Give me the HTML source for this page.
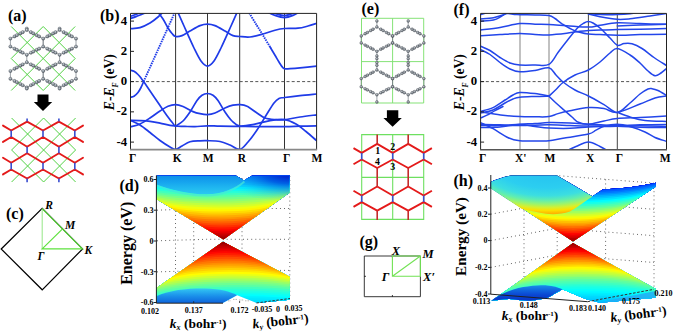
<!DOCTYPE html>
<html><head><meta charset="utf-8"><style>
html,body{margin:0;padding:0;background:#fff;}
body{width:675px;height:331px;overflow:hidden;position:relative;}
svg{position:absolute;left:0;top:0;}
text{font-family:"Liberation Serif",serif;font-weight:bold;}
</style></head><body>
<svg width="675" height="331" viewBox="0 0 675 331">

<defs>
<clipPath id="clipb"><rect x="130.5" y="13.4" width="186.10000000000002" height="136.29999999999998"/></clipPath>
<clipPath id="clipf"><rect x="480.6" y="13.4" width="185.89999999999998" height="136.29999999999998"/></clipPath>
</defs>
<line x1="175.6" y1="13.4" x2="175.6" y2="149.7" stroke="#333" stroke-width="1"/>
<line x1="207.5" y1="13.4" x2="207.5" y2="149.7" stroke="#333" stroke-width="1"/>
<line x1="239.7" y1="13.4" x2="239.7" y2="149.7" stroke="#333" stroke-width="1"/>
<line x1="284.5" y1="13.4" x2="284.5" y2="149.7" stroke="#333" stroke-width="1"/>
<line x1="130.5" y1="81.6" x2="316.6" y2="81.6" stroke="#555" stroke-width="1" stroke-dasharray="3 2.2"/>
<g clip-path="url(#clipb)" fill="none" stroke="#1f3be8" stroke-width="1.7" stroke-linejoin="round" stroke-linecap="round">
<path d="M130.5 18.4C131.42 18.1 134.08 17.3 136 16.6C137.92 15.9 140 14.97 142 14.2C144 13.43 147 12.37 148 12"/>
<path d="M130.5 16.3C131.25 16.05 133.42 15.43 135 14.8C136.58 14.17 139.17 12.88 140 12.5"/>
<path d="M130.5 28.7C132.08 28.52 136.75 28.55 140 27.6C143.25 26.65 147 24.77 150 23C153 21.23 155.67 19 158 17C160.33 15 163 12 164 11"/>
<path d="M157 11C158 12.33 161.17 16.17 163 19C164.83 21.83 166.5 25.58 168 28C169.5 30.42 170.73 32.08 172 33.5C173.27 34.92 173.93 36.15 175.6 36.5C177.27 36.85 179.6 36.52 182 35.6C184.4 34.68 187 32.67 190 31C193 29.33 197.08 26.75 200 25.6C202.92 24.45 205 24.1 207.5 24.1C210 24.1 212.08 24.45 215 25.6C217.92 26.75 222 29.33 225 31C228 32.67 230.55 34.68 233 35.6C235.45 36.52 236.87 36.27 239.7 36.5C242.53 36.73 246.28 37.37 250 37C253.72 36.63 257.83 35.43 262 34.3C266.17 33.17 271.25 31.17 275 30.2C278.75 29.23 280.67 28.83 284.5 28.5C288.33 28.17 294.08 28.62 298 28.2C301.92 27.78 304.9 26.82 308 26C311.1 25.18 315.17 23.75 316.6 23.3"/>
<path d="M176 8C177.33 11 181 19.33 184 26C187 32.67 191.17 42.17 194 48C196.83 53.83 198.75 57.98 201 61C203.25 64.02 205.33 66.1 207.5 66.1C209.67 66.1 211.75 64.02 214 61C216.25 57.98 218.17 53.83 221 48C223.83 42.17 228 32.67 231 26C234 19.33 237.67 11 239 8"/>
<path d="M265 11C266.67 11.73 271.75 14.3 275 15.4C278.25 16.5 281.5 17.6 284.5 17.6C287.5 17.6 290.25 16.5 293 15.4C295.75 14.3 299.67 11.73 301 11"/>
<path d="M270 11C271.33 11.57 275.58 13.63 278 14.4C280.42 15.17 282.5 15.6 284.5 15.6C286.5 15.6 287.92 15.17 290 14.4C292.08 13.63 295.83 11.57 297 11"/>
<path d="M270.5 47.7C271.25 48.95 273.58 52.82 275 55.2C276.42 57.58 277.83 60.1 279 62C280.17 63.9 281.08 65.47 282 66.6C282.92 67.73 283.17 68.47 284.5 68.8C285.83 69.13 287.42 68.77 290 68.6C292.58 68.43 295.57 68.22 300 67.8C304.43 67.38 313.83 66.38 316.6 66.1"/>
<path d="M130.5 70.2C131.08 70.38 132.75 70.58 134 71.3C135.25 72.02 136.83 73.38 138 74.5C139.17 75.62 140.07 76.82 141 78C141.93 79.18 142.6 80.18 143.6 81.6C144.6 83.02 144.27 82.52 147 86.5C149.73 90.48 156.5 100.42 160 105.5C163.5 110.58 165.92 114.12 168 117C170.08 119.88 171.23 121.3 172.5 122.8C173.77 124.3 173.52 125.4 175.6 126C177.68 126.6 181.77 126.3 185 126.4C188.23 126.5 191.25 126.7 195 126.6C198.75 126.5 203.33 125.87 207.5 125.8C211.67 125.73 214.63 126.1 220 126.2C225.37 126.3 233.03 126.33 239.7 126.4C246.37 126.47 252.53 126.57 260 126.6C267.47 126.63 277.83 126.67 284.5 126.6C291.17 126.53 294.65 126.33 300 126.2C305.35 126.07 313.83 125.87 316.6 125.8"/>
<path d="M130.5 97.2C131.08 97.03 132.75 96.98 134 96.2C135.25 95.42 136.83 93.95 138 92.5C139.17 91.05 140.07 89.32 141 87.5C141.93 85.68 143.17 82.58 143.6 81.6"/>
<path d="M130.5 120.4C132.08 120.43 136.75 120.45 140 120.6C143.25 120.75 146.67 120.87 150 121.3C153.33 121.73 156.67 122.53 160 123.2C163.33 123.87 167.4 124.83 170 125.3C172.6 125.77 174.67 125.88 175.6 126"/>
<path d="M130.5 120.4C132.08 121.17 136.75 122.98 140 125C143.25 127.02 146.67 129.92 150 132.5C153.33 135.08 156.67 138.08 160 140.5C163.33 142.92 167.4 145.52 170 147C172.6 148.48 173.6 149.57 175.6 149.4C177.6 149.23 179.6 147.27 182 146C184.4 144.73 187 142.67 190 141.8C193 140.93 197.08 140.98 200 140.8C202.92 140.62 204.17 140.58 207.5 140.7C210.83 140.82 216.25 140.78 220 141.5C223.75 142.22 226.72 143.68 230 145C233.28 146.32 236.7 149.9 239.7 149.4C242.7 148.9 245.12 145.23 248 142C250.88 138.77 254 134.42 257 130C260 125.58 263.17 120 266 115.5C268.83 111 271.83 105.83 274 103C276.17 100.17 277.25 99.42 279 98.5C280.75 97.58 281 97.98 284.5 97.5C288 97.02 294.65 96.18 300 95.6C305.35 95.02 313.83 94.27 316.6 94"/>
<path d="M130.5 126.9C132.08 126.42 136.75 125.48 140 124C143.25 122.52 146.67 120.17 150 118C153.33 115.83 157 112.97 160 111C163 109.03 165.4 107.27 168 106.2C170.6 105.13 173.1 104.55 175.6 104.6C178.1 104.65 180.1 105.33 183 106.5C185.9 107.67 190.17 110.4 193 111.6C195.83 112.8 197.58 113.2 200 113.7C202.42 114.2 205 114.72 207.5 114.6C210 114.48 212.08 114.1 215 113C217.92 111.9 222 109.3 225 108C228 106.7 230.55 105.77 233 105.2C235.45 104.63 237.37 104.43 239.7 104.6C242.03 104.77 244.12 104.8 247 106.2C249.88 107.6 254 111.03 257 113C260 114.97 262 116.9 265 118C268 119.1 271.75 119.33 275 119.6C278.25 119.87 280.33 120.03 284.5 119.6C288.67 119.17 294.65 117.8 300 117C305.35 116.2 313.83 115.17 316.6 114.8"/>
<path d="M175.6 126C176.83 125.17 180.6 123.33 183 121C185.4 118.67 187.67 115.42 190 112C192.33 108.58 195 103.3 197 100.5C199 97.7 200.25 96.37 202 95.2C203.75 94.03 205.67 93.5 207.5 93.5C209.33 93.5 211.25 94.03 213 95.2C214.75 96.37 216 97.7 218 100.5C220 103.3 222.67 108.58 225 112C227.33 115.42 229.55 118.67 232 121C234.45 123.33 235.87 125.47 239.7 126C243.53 126.53 249.95 125.1 255 124.2C260.05 123.3 265.08 121.37 270 120.6C274.92 119.83 280.17 119.03 284.5 119.6C288.83 120.17 292.42 122.02 296 124C299.58 125.98 302.57 128.72 306 131.5C309.43 134.28 314.83 139.17 316.6 140.7"/>
<path d="M143.6 81.6L175 12" stroke-dasharray="1.5 0.9" stroke-width="1.9" stroke-linecap="butt"/>
<path d="M248 11C249.45 13.37 254.03 20.87 256.7 25.2C259.37 29.53 261.62 33.12 264 37C266.38 40.88 269.83 46.58 271 48.5" stroke-dasharray="1.5 0.9" stroke-width="1.9" stroke-linecap="butt"/>
</g>
<path d="M130.5 149.7V13.4H316.6V149.7" fill="none" stroke="#222" stroke-width="1"/>
<line x1="130.0" y1="149.7" x2="317.1" y2="149.7" stroke="#888" stroke-width="1.8"/>
<line x1="130.5" y1="21.099999999999994" x2="134.0" y2="21.099999999999994" stroke="#222" stroke-width="1"/>
<line x1="130.5" y1="51.349999999999994" x2="134.0" y2="51.349999999999994" stroke="#222" stroke-width="1"/>
<line x1="130.5" y1="81.6" x2="134.0" y2="81.6" stroke="#222" stroke-width="1"/>
<line x1="130.5" y1="111.85" x2="134.0" y2="111.85" stroke="#222" stroke-width="1"/>
<line x1="130.5" y1="142.1" x2="134.0" y2="142.1" stroke="#222" stroke-width="1"/>
<line x1="520.0" y1="13.4" x2="520.0" y2="149.7" stroke="#a0a0a0" stroke-width="1.3"/>
<line x1="549.0" y1="13.4" x2="549.0" y2="149.7" stroke="#a0a0a0" stroke-width="1.3"/>
<line x1="588.4" y1="13.4" x2="588.4" y2="149.7" stroke="#444" stroke-width="1"/>
<line x1="617.3" y1="13.4" x2="617.3" y2="149.7" stroke="#444" stroke-width="1"/>
<line x1="480.6" y1="81.6" x2="666.5" y2="81.6" stroke="#555" stroke-width="1" stroke-dasharray="3 2.2"/>
<g clip-path="url(#clipf)" fill="none" stroke="#2346ea" stroke-width="1.5" stroke-linejoin="round" stroke-linecap="round">
<path d="M480.6 14.5C481.5 14.25 484.1 13.58 486 13C487.9 12.42 491 11.33 492 11"/>
<path d="M480.6 18.9C482.73 18.7 489.83 18.32 493.4 17.7C496.97 17.08 499.63 15.88 502 15.2C504.37 14.52 505.1 13.7 507.6 13.6C510.1 13.5 512.43 14.37 517 14.6C521.57 14.83 529.68 14.83 535 15C540.32 15.17 545.57 15.02 548.9 15.6C552.23 16.18 552.82 17.13 555 18.5C557.18 19.87 558.72 21.77 562 23.8C565.28 25.83 570.3 29 574.7 30.7C579.1 32.4 584.18 33.35 588.4 34C592.62 34.65 595.18 34.4 600 34.6C604.82 34.8 610.63 35.2 617.3 35.2C623.97 35.2 631.8 34.75 640 34.6C648.2 34.45 662.08 34.35 666.5 34.3"/>
<path d="M480.6 21.3C482.73 21.08 490 20.8 493.4 20C496.8 19.2 498.63 17.83 501 16.5C503.37 15.17 506.5 12.75 507.6 12"/>
<path d="M480.6 30.1C483.83 29.65 493.47 28.5 500 27.4C506.53 26.3 513.97 24.03 519.8 23.5C525.63 22.97 530.15 24.03 535 24.2C539.85 24.37 543.62 24.25 548.9 24.5C554.18 24.75 560.12 25.27 566.7 25.7C573.28 26.13 582.85 27.17 588.4 27.1C593.95 27.03 595.18 26.03 600 25.3C604.82 24.57 610.63 22.98 617.3 22.7C623.97 22.42 631.8 23.33 640 23.6C648.2 23.87 662.08 24.18 666.5 24.3"/>
<path d="M480.6 35.8C483.83 35.58 493.47 34.88 500 34.5C506.53 34.12 513.97 33.52 519.8 33.5C525.63 33.48 530.15 34.17 535 34.4C539.85 34.63 543.62 35.08 548.9 34.9C554.18 34.72 561.52 33.9 566.7 33.3C571.88 32.7 574.45 31.85 580 31.3C585.55 30.75 593.78 30.28 600 30C606.22 29.72 610.63 29.72 617.3 29.6C623.97 29.48 631.8 29.48 640 29.3C648.2 29.12 662.08 28.63 666.5 28.5"/>
<path d="M588.4 14C590.33 14.45 595.18 15.82 600 16.7C604.82 17.58 612.3 18.95 617.3 19.3C622.3 19.65 624.55 19.35 630 18.8C635.45 18.25 643.92 16.88 650 16C656.08 15.12 663.75 13.92 666.5 13.5"/>
<path d="M588.4 13.6C590.33 13.73 595.18 14.23 600 14.4C604.82 14.57 612.3 14.7 617.3 14.6C622.3 14.5 626.22 14.23 630 13.8C633.78 13.37 638.33 12.3 640 12"/>
<path d="M617.3 25.9C621.08 25.75 631.8 25.27 640 25C648.2 24.73 662.08 24.42 666.5 24.3"/>
<path d="M480.6 46.2C482.17 46.92 486.77 48.62 490 50.5C493.23 52.38 496.67 55.42 500 57.5C503.33 59.58 506.7 61.75 510 63C513.3 64.25 515.63 64.67 519.8 65C523.97 65.33 530.15 65.1 535 65C539.85 64.9 545.07 66.48 548.9 64.4C552.73 62.32 554.82 56.65 558 52.5C561.18 48.35 564.67 43.67 568 39.5C571.33 35.33 575.33 30.25 578 27.5C580.67 24.75 582.27 24 584 23C585.73 22 586.9 21.5 588.4 21.5C589.9 21.5 591.07 21.92 593 23C594.93 24.08 597.17 25.5 600 28C602.83 30.5 607.12 35.12 610 38C612.88 40.88 614.97 44.37 617.3 45.3C619.63 46.23 621.55 43.85 624 43.6C626.45 43.35 629 42.98 632 43.8C635 44.62 638.33 46.22 642 48.5C645.67 50.78 649.92 54.67 654 57.5C658.08 60.33 664.42 64.17 666.5 65.5"/>
<path d="M480.6 49.6C482.17 50.42 486.77 52.35 490 54.5C493.23 56.65 496.67 60.08 500 62.5C503.33 64.92 506.7 67.45 510 69C513.3 70.55 515.63 71.55 519.8 71.8C523.97 72.05 530.15 71.17 535 70.5C539.85 69.83 545.4 67.05 548.9 67.8C552.4 68.55 553.65 72.63 556 75C558.35 77.37 559.83 79.5 563 82C566.17 84.5 570.77 87.67 575 90C579.23 92.33 583.57 93.57 588.4 96C593.23 98.43 599.18 101.87 604 104.6C608.82 107.33 612.97 112.67 617.3 112.4C621.63 112.13 626.22 106.07 630 103C633.78 99.93 637 96.33 640 94C643 91.67 646 89.88 648 89C650 88.12 650.33 88.45 652 88.7C653.67 88.95 655.58 89.38 658 90.5C660.42 91.62 665.08 94.58 666.5 95.4"/>
<path d="M548.9 96.2C550.08 95.08 553.65 91.78 556 89.5C558.35 87.22 559.83 84.92 563 82.5C566.17 80.08 570.77 77.08 575 75C579.23 72.92 584.23 72.17 588.4 70C592.57 67.83 596.4 64.83 600 62C603.6 59.17 607.12 55.25 610 53C612.88 50.75 613.97 48.17 617.3 48.5C620.63 48.83 626.22 52.58 630 55C633.78 57.42 637 60.33 640 63C643 65.67 645.5 68.88 648 71C650.5 73.12 652.83 75.37 655 75.7C657.17 76.03 659.08 74.2 661 73C662.92 71.8 665.58 69.25 666.5 68.5"/>
<path d="M480.6 111.3C482.67 110.68 488.93 109.48 493 107.6C497.07 105.72 501.67 102.1 505 100C508.33 97.9 510.53 96.25 513 95C515.47 93.75 516.13 92.73 519.8 92.5C523.47 92.27 530.15 93.02 535 93.6C539.85 94.18 546.58 95.6 548.9 96"/>
<path d="M480.6 113C482.67 112.5 488.93 111.67 493 110C497.07 108.33 501.67 104.83 505 103C508.33 101.17 510.53 99.97 513 99C515.47 98.03 516.13 97.62 519.8 97.2C523.47 96.78 530.15 96.67 535 96.5C539.85 96.33 546.58 96.25 548.9 96.2"/>
<path d="M480.6 118C481.67 117.53 484.6 116.43 487 115.2C489.4 113.97 492.33 112.05 495 110.6C497.67 109.15 501.67 107.18 503 106.5"/>
<path d="M480.6 112C483.93 112.5 494.07 114.23 500.6 115C507.13 115.77 514.07 116.3 519.8 116.6C525.53 116.9 530.15 116.8 535 116.8C539.85 116.8 545.07 117.13 548.9 116.6C552.73 116.07 554.48 114.57 558 113.6C561.52 112.63 564.93 111.8 570 110.8C575.07 109.8 582.73 107.97 588.4 107.6C594.07 107.23 599.18 107.8 604 108.6C608.82 109.4 611.3 113.17 617.3 112.4C623.3 111.63 633.72 106.4 640 104C646.28 101.6 650.58 99.33 655 98C659.42 96.67 664.58 96.33 666.5 96"/>
<path d="M480.6 125.5C483.83 125.52 493.47 125.82 500 125.6C506.53 125.38 513.97 124.53 519.8 124.2C525.63 123.87 530.15 123.87 535 123.6C539.85 123.33 543.07 122.7 548.9 122.6C554.73 122.5 563.42 122.72 570 123C576.58 123.28 582.73 123.97 588.4 124.3C594.07 124.63 599.18 124.8 604 125C608.82 125.2 611.3 125.53 617.3 125.5C623.3 125.47 631.8 124.97 640 124.8C648.2 124.63 662.08 124.55 666.5 124.5"/>
<path d="M480.6 127.5C483.83 127.42 493.47 127.48 500 127C506.53 126.52 513.97 124.68 519.8 124.6C525.63 124.52 530.15 125.93 535 126.5C539.85 127.07 543.07 127.7 548.9 128C554.73 128.3 563.42 128.47 570 128.3C576.58 128.13 582.73 127.3 588.4 127C594.07 126.7 599.18 126.62 604 126.5C608.82 126.38 611.3 126.42 617.3 126.3C623.3 126.18 631.8 125.77 640 125.8C648.2 125.83 662.08 126.38 666.5 126.5"/>
<path d="M480.6 124.5C483.83 124.55 493.47 124.63 500 124.8C506.53 124.97 513.97 125.43 519.8 125.5C525.63 125.57 530.15 125.32 535 125.2C539.85 125.08 543.07 124.75 548.9 124.8C554.73 124.85 563.42 125.3 570 125.5C576.58 125.7 580.52 125.88 588.4 126C596.28 126.12 608.7 126 617.3 126.2C625.9 126.4 631.8 126.98 640 127.2C648.2 127.42 662.08 127.45 666.5 127.5"/>
<path d="M480.6 122.6C482.68 123.62 488.5 126.18 493.1 128.7C497.7 131.22 503.75 135.68 508.2 137.7C512.65 139.72 515.33 140.27 519.8 140.8C524.27 141.33 530.15 140.9 535 140.9C539.85 140.9 543.97 141.28 548.9 140.8C553.83 140.32 558.02 139.12 564.6 138C571.18 136.88 583.17 135.4 588.4 134.1C593.63 132.8 593.4 131.5 596 130.2C598.6 128.9 600.45 127.28 604 126.3C607.55 125.32 612.97 124.27 617.3 124.3C621.63 124.33 625.38 125.22 630 126.5C634.62 127.78 640.83 130.17 645 132C649.17 133.83 651.42 135.95 655 137.5C658.58 139.05 664.58 140.67 666.5 141.3"/>
<path d="M548.9 96.2C550.08 97.33 553.38 100.62 556 103C558.62 105.38 561.93 108.17 564.6 110.5C567.27 112.83 569.7 115.03 572 117C574.3 118.97 575.67 121.08 578.4 122.3C581.13 123.52 584.13 124.52 588.4 124.3C592.67 124.08 599.18 121.97 604 121C608.82 120.03 611.3 119.08 617.3 118.5C623.3 117.92 631.8 117.92 640 117.5C648.2 117.08 662.08 116.25 666.5 116"/>
<path d="M566 151C567.67 150.25 572.27 148 576 146.5C579.73 145 584.4 142 588.4 142C592.4 142 596.73 145 600 146.5C603.27 148 606.67 150.25 608 151"/>
<path d="M617.3 112.4C619.42 113.17 625.38 115.65 630 117C634.62 118.35 638.92 119.75 645 120.5C651.08 121.25 662.92 121.33 666.5 121.5"/>
</g>
<path d="M480.6 149.7V13.4H666.5V149.7" fill="none" stroke="#222" stroke-width="1"/>
<line x1="480.1" y1="149.7" x2="667.0" y2="149.7" stroke="#555" stroke-width="1.6"/>
<line x1="480.6" y1="21.099999999999994" x2="484.1" y2="21.099999999999994" stroke="#222" stroke-width="1"/>
<line x1="480.6" y1="51.349999999999994" x2="484.1" y2="51.349999999999994" stroke="#222" stroke-width="1"/>
<line x1="480.6" y1="81.6" x2="484.1" y2="81.6" stroke="#222" stroke-width="1"/>
<line x1="480.6" y1="111.85" x2="484.1" y2="111.85" stroke="#222" stroke-width="1"/>
<line x1="480.6" y1="142.1" x2="484.1" y2="142.1" stroke="#222" stroke-width="1"/>
<text x="127.1" y="24.599999999999994" font-size="12.8" text-anchor="end">4</text>
<text x="127.1" y="54.849999999999994" font-size="12.8" text-anchor="end">2</text>
<text x="127.1" y="85.1" font-size="12.8" text-anchor="end">0</text>
<text x="127.1" y="115.35" font-size="12.8" text-anchor="end">-2</text>
<text x="127.1" y="145.6" font-size="12.8" text-anchor="end">-4</text>
<text x="477.1" y="24.599999999999994" font-size="12.8" text-anchor="end">4</text>
<text x="477.1" y="54.849999999999994" font-size="12.8" text-anchor="end">2</text>
<text x="477.1" y="85.1" font-size="12.8" text-anchor="end">0</text>
<text x="477.1" y="115.35" font-size="12.8" text-anchor="end">-2</text>
<text x="477.1" y="145.6" font-size="12.8" text-anchor="end">-4</text>
<text x="132.6" y="162.4" font-size="11.5" text-anchor="middle">Γ</text>
<text x="177.3" y="162.4" font-size="11.5" text-anchor="middle">K</text>
<text x="208.2" y="162.4" font-size="11.5" text-anchor="middle">M</text>
<text x="241.8" y="162.4" font-size="11.5" text-anchor="middle">R</text>
<text x="286.7" y="162.4" font-size="11.5" text-anchor="middle">Γ</text>
<text x="316.9" y="162.4" font-size="11.5" text-anchor="middle">M</text>
<text x="482.7" y="162.4" font-size="11.5" text-anchor="middle">Γ</text>
<text x="520.8" y="162.4" font-size="11.5" text-anchor="middle">X'</text>
<text x="550" y="162.4" font-size="11.5" text-anchor="middle">M</text>
<text x="590.2" y="162.4" font-size="11.5" text-anchor="middle">X</text>
<text x="619.4" y="162.4" font-size="11.5" text-anchor="middle">Γ</text>
<text x="665.2" y="162.4" font-size="11.5" text-anchor="middle">M</text>
<text transform="translate(113.5,82.2) rotate(-90)" font-size="13.6" text-anchor="middle"><tspan font-style="italic">E</tspan>-<tspan font-style="italic">E</tspan><tspan font-size="7.5" dy="4" font-style="italic">F</tspan><tspan dy="-4"> (eV)</tspan></text>
<text transform="translate(463.5,82.2) rotate(-90)" font-size="13.6" text-anchor="middle"><tspan font-style="italic">E</tspan>-<tspan font-style="italic">E</tspan><tspan font-size="7.5" dy="4" font-style="italic">F</tspan><tspan dy="-4"> (eV)</tspan></text>
<text x="8" y="21" font-size="16">(a)</text>
<text x="100" y="20.6" font-size="16">(b)</text>
<text x="6" y="218.5" font-size="16">(c)</text>
<text x="119.5" y="191" font-size="16">(d)</text>
<text x="361.5" y="13.5" font-size="16">(e)</text>
<text x="453.5" y="15" font-size="16">(f)</text>
<text x="359.5" y="246.5" font-size="16">(g)</text>
<text x="453.5" y="185.5" font-size="16">(h)</text>
<defs><radialGradient id="atomg" cx="0.4" cy="0.35" r="0.7"><stop offset="0" stop-color="#c4c9ce"/><stop offset="0.6" stop-color="#848b92"/><stop offset="1" stop-color="#5c6269"/></radialGradient><radialGradient id="atomga" cx="0.4" cy="0.35" r="0.7"><stop offset="0" stop-color="#d0d6dc"/><stop offset="0.5" stop-color="#909aa3"/><stop offset="1" stop-color="#4e565e"/></radialGradient></defs>
<path d="M11.2 58.5L43.2 90.5M11.2 26.5L75.2 90.5M43.2 26.5L75.2 58.5M11.2 58.5L43.2 26.5M11.2 90.5L75.2 26.5M43.2 90.5L75.2 58.5" stroke="#52d244" stroke-width="1" fill="none"/>
<path d="M26.8 30L10.4 38.6M26.8 30L43.2 38.6M10.4 38.6L10.4 46.6M43.2 38.6L43.2 46.6M10.4 46.6L26.8 54.8M43.2 46.6L26.8 54.8M26.8 62.2L10.4 71M26.8 62.2L43.2 71M10.4 71L10.4 78.8M43.2 71L43.2 78.8M10.4 78.8L26.8 87.4M43.2 78.8L26.8 87.4M26.8 28.6L26.8 30M26.8 54.8L26.8 62.2M26.8 87.4L26.8 88.6M59.6 30L43.2 38.6M59.6 30L76 38.6M43.2 38.6L43.2 46.6M76 38.6L76 46.6M43.2 46.6L59.6 54.8M76 46.6L59.6 54.8M59.6 62.2L43.2 71M59.6 62.2L76 71M43.2 71L43.2 78.8M76 71L76 78.8M43.2 78.8L59.6 87.4M76 78.8L59.6 87.4M59.6 28.6L59.6 30M59.6 54.8L59.6 62.2M59.6 87.4L59.6 88.6" stroke="#7c848b" stroke-width="0.75" fill="none"/>
<g fill="url(#atomga)" stroke="#3a4047" stroke-width="0.35">
<circle cx="10.4" cy="38.6" r="1.6"/>
<circle cx="10.4" cy="46.6" r="1.6"/>
<circle cx="10.4" cy="71" r="1.6"/>
<circle cx="10.4" cy="78.8" r="1.6"/>
<circle cx="14.5" cy="36.45" r="1.6"/>
<circle cx="14.5" cy="48.65" r="1.6"/>
<circle cx="14.5" cy="68.8" r="1.6"/>
<circle cx="14.5" cy="80.95" r="1.6"/>
<circle cx="16.88" cy="35.2" r="1.6"/>
<circle cx="16.88" cy="49.84" r="1.6"/>
<circle cx="16.88" cy="67.52" r="1.6"/>
<circle cx="16.88" cy="82.2" r="1.6"/>
<circle cx="20.32" cy="33.4" r="1.6"/>
<circle cx="20.32" cy="51.56" r="1.6"/>
<circle cx="20.32" cy="65.68" r="1.6"/>
<circle cx="20.32" cy="84" r="1.6"/>
<circle cx="22.7" cy="32.15" r="1.6"/>
<circle cx="22.7" cy="52.75" r="1.6"/>
<circle cx="22.7" cy="64.4" r="1.6"/>
<circle cx="22.7" cy="85.25" r="1.6"/>
<circle cx="26.8" cy="28.6" r="1.6"/>
<circle cx="26.8" cy="30" r="1.6"/>
<circle cx="26.8" cy="54.8" r="1.6"/>
<circle cx="26.8" cy="62.2" r="1.6"/>
<circle cx="26.8" cy="87.4" r="1.6"/>
<circle cx="26.8" cy="88.6" r="1.6"/>
<circle cx="30.9" cy="32.15" r="1.6"/>
<circle cx="30.9" cy="52.75" r="1.6"/>
<circle cx="30.9" cy="64.4" r="1.6"/>
<circle cx="30.9" cy="85.25" r="1.6"/>
<circle cx="33.28" cy="33.4" r="1.6"/>
<circle cx="33.28" cy="51.56" r="1.6"/>
<circle cx="33.28" cy="65.68" r="1.6"/>
<circle cx="33.28" cy="84" r="1.6"/>
<circle cx="36.72" cy="35.2" r="1.6"/>
<circle cx="36.72" cy="49.84" r="1.6"/>
<circle cx="36.72" cy="67.52" r="1.6"/>
<circle cx="36.72" cy="82.2" r="1.6"/>
<circle cx="39.1" cy="36.45" r="1.6"/>
<circle cx="39.1" cy="48.65" r="1.6"/>
<circle cx="39.1" cy="68.8" r="1.6"/>
<circle cx="39.1" cy="80.95" r="1.6"/>
<circle cx="43.2" cy="38.6" r="1.6"/>
<circle cx="43.2" cy="46.6" r="1.6"/>
<circle cx="43.2" cy="71" r="1.6"/>
<circle cx="43.2" cy="78.8" r="1.6"/>
<circle cx="47.3" cy="36.45" r="1.6"/>
<circle cx="47.3" cy="48.65" r="1.6"/>
<circle cx="47.3" cy="68.8" r="1.6"/>
<circle cx="47.3" cy="80.95" r="1.6"/>
<circle cx="49.68" cy="35.2" r="1.6"/>
<circle cx="49.68" cy="49.84" r="1.6"/>
<circle cx="49.68" cy="67.52" r="1.6"/>
<circle cx="49.68" cy="82.2" r="1.6"/>
<circle cx="53.12" cy="33.4" r="1.6"/>
<circle cx="53.12" cy="51.56" r="1.6"/>
<circle cx="53.12" cy="65.68" r="1.6"/>
<circle cx="53.12" cy="84" r="1.6"/>
<circle cx="55.5" cy="32.15" r="1.6"/>
<circle cx="55.5" cy="52.75" r="1.6"/>
<circle cx="55.5" cy="64.4" r="1.6"/>
<circle cx="55.5" cy="85.25" r="1.6"/>
<circle cx="59.6" cy="28.6" r="1.6"/>
<circle cx="59.6" cy="30" r="1.6"/>
<circle cx="59.6" cy="54.8" r="1.6"/>
<circle cx="59.6" cy="62.2" r="1.6"/>
<circle cx="59.6" cy="87.4" r="1.6"/>
<circle cx="59.6" cy="88.6" r="1.6"/>
<circle cx="63.7" cy="32.15" r="1.6"/>
<circle cx="63.7" cy="52.75" r="1.6"/>
<circle cx="63.7" cy="64.4" r="1.6"/>
<circle cx="63.7" cy="85.25" r="1.6"/>
<circle cx="66.08" cy="33.4" r="1.6"/>
<circle cx="66.08" cy="51.56" r="1.6"/>
<circle cx="66.08" cy="65.68" r="1.6"/>
<circle cx="66.08" cy="84" r="1.6"/>
<circle cx="69.52" cy="35.2" r="1.6"/>
<circle cx="69.52" cy="49.84" r="1.6"/>
<circle cx="69.52" cy="67.52" r="1.6"/>
<circle cx="69.52" cy="82.2" r="1.6"/>
<circle cx="71.9" cy="36.45" r="1.6"/>
<circle cx="71.9" cy="48.65" r="1.6"/>
<circle cx="71.9" cy="68.8" r="1.6"/>
<circle cx="71.9" cy="80.95" r="1.6"/>
<circle cx="76" cy="38.6" r="1.6"/>
<circle cx="76" cy="46.6" r="1.6"/>
<circle cx="76" cy="71" r="1.6"/>
<circle cx="76" cy="78.8" r="1.6"/>
</g>
<path d="M37.5 94.5H48.5V102H52.2L43 111L33.8 102H37.5Z" fill="#000"/>
<path d="M11.6 150L43.6 182M11.6 118L75.6 182M43.6 118L75.6 150M11.6 150L43.6 118M11.6 182L75.6 118M43.6 182L75.6 150" stroke="#52d244" stroke-width="1" fill="none"/>
<path d="M27.1 121.6L11.2 130.5M27.1 121.6L43 130.5M58.9 121.6L43 130.5M58.9 121.6L74.8 130.5M11.2 137L27.1 146.8M43 137L27.1 146.8M43 137L58.9 146.8M74.8 137L58.9 146.8M27.1 153.3L11.2 162.7M27.1 153.3L43 162.7M58.9 153.3L43 162.7M58.9 153.3L74.8 162.7M11.2 169.5L27.1 178.5M43 169.5L27.1 178.5M43 169.5L58.9 178.5M74.8 169.5L58.9 178.5M11.2 130.5L3 125.6M11.2 137L3 141.9M74.8 130.5L83 125.6M74.8 137L83 141.9M11.2 162.7L3 157.8M11.2 169.5L3 174.4M74.8 162.7L83 157.8M74.8 169.5L83 174.4" stroke="#e41a1a" stroke-width="1.9" fill="none" stroke-linecap="round"/>
<path d="M27.1 118.5L27.1 121.6M58.9 118.5L58.9 121.6M11.2 130.5L11.2 137M43 130.5L43 137M74.8 130.5L74.8 137M11.2 162.7L11.2 169.5M43 162.7L43 169.5M74.8 162.7L74.8 169.5M27.1 146.8L27.1 153.3M58.9 146.8L58.9 153.3M27.1 178.5L27.1 182.3M58.9 178.5L58.9 182.3" stroke="#3a4ed0" stroke-width="1.6" fill="none"/>
<path d="M1.2 249L42.2 208.3L82.6 248.9L42.2 289.8Z" fill="none" stroke="#000" stroke-width="1.2"/>
<path d="M42.2 249V208.6" stroke="#9ee890" stroke-width="1.1"/>
<path d="M42.2 208.6L82.4 248.9H42.2L62.8 228.6" stroke="#5ee23e" stroke-width="1.2" fill="none"/>
<text x="49" y="209.3" font-size="11.5" font-style="italic" text-anchor="middle">R</text>
<text x="70.2" y="228.8" font-size="11.5" font-style="italic" text-anchor="middle">M</text>
<text x="88.4" y="253.8" font-size="11.5" font-style="italic" text-anchor="middle">K</text>
<text x="41" y="259.5" font-size="11.5" font-style="italic" text-anchor="middle">Γ</text>
<path d="M361.5 18.3H423.7V103H361.5ZM392.6 18.3V103M361.5 61.6H423.7" stroke="#80e070" stroke-width="0.95" fill="none"/>
<path d="M376.9 27L361.2 36M376.9 27L392.6 36M361.2 36L361.2 43M392.6 36L392.6 43M361.2 43L376.9 51.3M392.6 43L376.9 51.3M376.9 70L361.2 78.6M376.9 70L392.6 78.6M361.2 78.6L361.2 86.8M392.6 78.6L392.6 86.8M361.2 86.8L376.9 94.8M392.6 86.8L376.9 94.8M376.9 21L376.9 27M376.9 51.3L376.9 70M376.9 94.8L376.9 102M408.2 27L392.5 36M408.2 27L423.9 36M392.5 36L392.5 43M423.9 36L423.9 43M392.5 43L408.2 51.3M423.9 43L408.2 51.3M408.2 70L392.5 78.6M408.2 70L423.9 78.6M392.5 78.6L392.5 86.8M423.9 78.6L423.9 86.8M392.5 86.8L408.2 94.8M423.9 86.8L408.2 94.8M408.2 21L408.2 27M408.2 51.3L408.2 70M408.2 94.8L408.2 102" stroke="#7c848b" stroke-width="0.75" fill="none"/>
<g fill="url(#atomg)" stroke="#3a4047" stroke-width="0.35">
<circle cx="361.2" cy="36" r="1.4"/>
<circle cx="361.2" cy="43" r="1.4"/>
<circle cx="361.2" cy="78.6" r="1.4"/>
<circle cx="361.2" cy="86.8" r="1.4"/>
<circle cx="365.12" cy="33.75" r="1.4"/>
<circle cx="365.12" cy="45.08" r="1.4"/>
<circle cx="365.12" cy="76.45" r="1.4"/>
<circle cx="365.12" cy="88.8" r="1.4"/>
<circle cx="367.4" cy="32.45" r="1.4"/>
<circle cx="367.4" cy="46.28" r="1.4"/>
<circle cx="367.4" cy="75.2" r="1.4"/>
<circle cx="367.4" cy="89.96" r="1.4"/>
<circle cx="370.7" cy="30.55" r="1.4"/>
<circle cx="370.7" cy="48.02" r="1.4"/>
<circle cx="370.7" cy="73.4" r="1.4"/>
<circle cx="370.7" cy="91.64" r="1.4"/>
<circle cx="372.97" cy="29.25" r="1.4"/>
<circle cx="372.97" cy="49.22" r="1.4"/>
<circle cx="372.97" cy="72.15" r="1.4"/>
<circle cx="372.97" cy="92.8" r="1.4"/>
<circle cx="376.9" cy="21" r="1.4"/>
<circle cx="376.9" cy="27" r="1.4"/>
<circle cx="376.9" cy="51.3" r="1.4"/>
<circle cx="376.9" cy="55.97" r="1.4"/>
<circle cx="376.9" cy="58.69" r="1.4"/>
<circle cx="376.9" cy="62.61" r="1.4"/>
<circle cx="376.9" cy="65.33" r="1.4"/>
<circle cx="376.9" cy="70" r="1.4"/>
<circle cx="376.9" cy="94.8" r="1.4"/>
<circle cx="376.9" cy="102" r="1.4"/>
<circle cx="380.82" cy="29.25" r="1.4"/>
<circle cx="380.82" cy="49.22" r="1.4"/>
<circle cx="380.82" cy="72.15" r="1.4"/>
<circle cx="380.82" cy="92.8" r="1.4"/>
<circle cx="383.1" cy="30.55" r="1.4"/>
<circle cx="383.1" cy="48.02" r="1.4"/>
<circle cx="383.1" cy="73.4" r="1.4"/>
<circle cx="383.1" cy="91.64" r="1.4"/>
<circle cx="386.4" cy="32.45" r="1.4"/>
<circle cx="386.4" cy="46.28" r="1.4"/>
<circle cx="386.4" cy="75.2" r="1.4"/>
<circle cx="386.4" cy="89.96" r="1.4"/>
<circle cx="388.67" cy="33.75" r="1.4"/>
<circle cx="388.67" cy="45.08" r="1.4"/>
<circle cx="388.67" cy="76.45" r="1.4"/>
<circle cx="388.67" cy="88.8" r="1.4"/>
<circle cx="392.5" cy="36" r="1.4"/>
<circle cx="392.5" cy="43" r="1.4"/>
<circle cx="392.5" cy="78.6" r="1.4"/>
<circle cx="392.5" cy="86.8" r="1.4"/>
<circle cx="392.6" cy="36" r="1.4"/>
<circle cx="392.6" cy="43" r="1.4"/>
<circle cx="392.6" cy="78.6" r="1.4"/>
<circle cx="392.6" cy="86.8" r="1.4"/>
<circle cx="396.43" cy="33.75" r="1.4"/>
<circle cx="396.43" cy="45.08" r="1.4"/>
<circle cx="396.43" cy="76.45" r="1.4"/>
<circle cx="396.43" cy="88.8" r="1.4"/>
<circle cx="398.7" cy="32.45" r="1.4"/>
<circle cx="398.7" cy="46.28" r="1.4"/>
<circle cx="398.7" cy="75.2" r="1.4"/>
<circle cx="398.7" cy="89.96" r="1.4"/>
<circle cx="402" cy="30.55" r="1.4"/>
<circle cx="402" cy="48.02" r="1.4"/>
<circle cx="402" cy="73.4" r="1.4"/>
<circle cx="402" cy="91.64" r="1.4"/>
<circle cx="404.27" cy="29.25" r="1.4"/>
<circle cx="404.27" cy="49.22" r="1.4"/>
<circle cx="404.27" cy="72.15" r="1.4"/>
<circle cx="404.27" cy="92.8" r="1.4"/>
<circle cx="408.2" cy="21" r="1.4"/>
<circle cx="408.2" cy="27" r="1.4"/>
<circle cx="408.2" cy="51.3" r="1.4"/>
<circle cx="408.2" cy="55.97" r="1.4"/>
<circle cx="408.2" cy="58.69" r="1.4"/>
<circle cx="408.2" cy="62.61" r="1.4"/>
<circle cx="408.2" cy="65.33" r="1.4"/>
<circle cx="408.2" cy="70" r="1.4"/>
<circle cx="408.2" cy="94.8" r="1.4"/>
<circle cx="408.2" cy="102" r="1.4"/>
<circle cx="412.12" cy="29.25" r="1.4"/>
<circle cx="412.12" cy="49.22" r="1.4"/>
<circle cx="412.12" cy="72.15" r="1.4"/>
<circle cx="412.12" cy="92.8" r="1.4"/>
<circle cx="414.4" cy="30.55" r="1.4"/>
<circle cx="414.4" cy="48.02" r="1.4"/>
<circle cx="414.4" cy="73.4" r="1.4"/>
<circle cx="414.4" cy="91.64" r="1.4"/>
<circle cx="417.7" cy="32.45" r="1.4"/>
<circle cx="417.7" cy="46.28" r="1.4"/>
<circle cx="417.7" cy="75.2" r="1.4"/>
<circle cx="417.7" cy="89.96" r="1.4"/>
<circle cx="419.97" cy="33.75" r="1.4"/>
<circle cx="419.97" cy="45.08" r="1.4"/>
<circle cx="419.97" cy="76.45" r="1.4"/>
<circle cx="419.97" cy="88.8" r="1.4"/>
<circle cx="423.9" cy="36" r="1.4"/>
<circle cx="423.9" cy="43" r="1.4"/>
<circle cx="423.9" cy="78.6" r="1.4"/>
<circle cx="423.9" cy="86.8" r="1.4"/>
</g>
<path d="M386.9 110.3H398.3V117.9H401.8L392.6 126.8L383.4 117.9H386.9Z" fill="#000"/>
<path d="M361.7 134.6H423.7V219.4H361.7ZM392.7 134.6V219.4M361.7 177.4H423.7" stroke="#6ee060" stroke-width="1.1" fill="none"/>
<path d="M377.2 143.9L361.7 152.9M377.2 143.9L392.7 152.9M408.2 143.9L392.7 152.9M408.2 143.9L423.7 152.9M361.7 159.5L377.2 168M392.7 159.5L377.2 168M392.7 159.5L408.2 168M423.7 159.5L408.2 168M361.7 152.9L353.5 148.1M361.7 159.5L353.5 164.3M423.7 152.9L431.9 148.1M423.7 159.5L431.9 164.3M377.2 186.5L361.7 195.5M377.2 186.5L392.7 195.5M408.2 186.5L392.7 195.5M408.2 186.5L423.7 195.5M361.7 202.1L377.2 210.6M392.7 202.1L377.2 210.6M392.7 202.1L408.2 210.6M423.7 202.1L408.2 210.6M361.7 195.5L353.5 190.7M361.7 202.1L353.5 206.9M423.7 195.5L431.9 190.7M423.7 202.1L431.9 206.9" stroke="#e41a1a" stroke-width="1.9" fill="none"/>
<path d="M377.2 134.6L377.2 143.9M408.2 134.6L408.2 143.9M377.2 168L377.2 177.4M408.2 168L408.2 177.4M377.2 177.2L377.2 186.5M408.2 177.2L408.2 186.5M377.2 210.6L377.2 220M408.2 210.6L408.2 220" stroke="#c42a2a" stroke-width="1.6" fill="none"/>
<path d="M361.7 152.9L361.7 159.5M392.7 152.9L392.7 159.5M423.7 152.9L423.7 159.5M361.7 195.5L361.7 202.1M392.7 195.5L392.7 202.1M423.7 195.5L423.7 202.1" stroke="#3a4ed0" stroke-width="1.6" fill="none"/>
<text x="377.6" y="154.3" font-size="9.8" text-anchor="middle">1</text>
<text x="392.8" y="149.5" font-size="9.8" text-anchor="middle">2</text>
<text x="377.5" y="165" font-size="9.8" text-anchor="middle">4</text>
<text x="392.8" y="170" font-size="9.8" text-anchor="middle">3</text>
<path d="M364.3 256H420.4V296.7H364.3Z" fill="none" stroke="#222" stroke-width="0.9"/>
<path d="M392.4 296.7v-1.5M392.4 256v1.5M364.3 276.3h1.5" stroke="#111" stroke-width="1"/>
<path d="M392.4 276.3H420.4V256H392.4ZM392.4 276.3L420.4 256" stroke="#72e254" stroke-width="1.1" fill="none"/>
<text x="395.8" y="254.6" font-size="12.5" font-style="italic" text-anchor="middle">X</text>
<text x="428" y="258.3" font-size="12.5" font-style="italic" text-anchor="middle">M</text>
<text x="385.5" y="281" font-size="12.5" font-style="italic" text-anchor="middle">Γ</text>
<text x="429" y="281" font-size="12.5" font-style="italic" text-anchor="middle">X′</text>
<defs><linearGradient id="dUp" gradientUnits="userSpaceOnUse" x1="217.69" y1="172" x2="223.5" y2="239.5"><stop offset="0.0000" stop-color="#0037ff"/><stop offset="0.0417" stop-color="#0059ff"/><stop offset="0.0833" stop-color="#007cff"/><stop offset="0.1250" stop-color="#009fff"/><stop offset="0.1667" stop-color="#00c2ff"/><stop offset="0.2083" stop-color="#00e5ff"/><stop offset="0.2500" stop-color="#09fff6"/><stop offset="0.2917" stop-color="#2cffd3"/><stop offset="0.3333" stop-color="#4fffb0"/><stop offset="0.3750" stop-color="#72ff8d"/><stop offset="0.4167" stop-color="#95ff6a"/><stop offset="0.4583" stop-color="#b8ff47"/><stop offset="0.5000" stop-color="#dbff24"/><stop offset="0.5417" stop-color="#fdff02"/><stop offset="0.5833" stop-color="#ffde00"/><stop offset="0.6250" stop-color="#ffbb00"/><stop offset="0.6667" stop-color="#ff9800"/><stop offset="0.7083" stop-color="#ff7500"/><stop offset="0.7500" stop-color="#ff5200"/><stop offset="0.7917" stop-color="#ff2f00"/><stop offset="0.8333" stop-color="#ff0c00"/><stop offset="0.8750" stop-color="#e80000"/><stop offset="0.9167" stop-color="#c50000"/><stop offset="0.9583" stop-color="#a20000"/><stop offset="1.0000" stop-color="#800000"/></linearGradient><linearGradient id="dLo" gradientUnits="userSpaceOnUse" x1="0" y1="241.8" x2="0" y2="304"><stop offset="0.0000" stop-color="#800000"/><stop offset="0.0417" stop-color="#9f0000"/><stop offset="0.0833" stop-color="#be0000"/><stop offset="0.1250" stop-color="#de0000"/><stop offset="0.1667" stop-color="#fd0000"/><stop offset="0.2083" stop-color="#ff1d00"/><stop offset="0.2500" stop-color="#ff3d00"/><stop offset="0.2917" stop-color="#ff5c00"/><stop offset="0.3333" stop-color="#ff7c00"/><stop offset="0.3750" stop-color="#ff9b00"/><stop offset="0.4167" stop-color="#ffba00"/><stop offset="0.4583" stop-color="#ffda00"/><stop offset="0.5000" stop-color="#fff900"/><stop offset="0.5417" stop-color="#e5ff1a"/><stop offset="0.5833" stop-color="#c6ff39"/><stop offset="0.6250" stop-color="#a7ff58"/><stop offset="0.6667" stop-color="#87ff78"/><stop offset="0.7083" stop-color="#68ff97"/><stop offset="0.7500" stop-color="#48ffb7"/><stop offset="0.7917" stop-color="#29ffd6"/><stop offset="0.8333" stop-color="#0afff5"/><stop offset="0.8750" stop-color="#00e9ff"/><stop offset="0.9167" stop-color="#00caff"/><stop offset="0.9583" stop-color="#00abff"/><stop offset="1.0000" stop-color="#008bff"/></linearGradient><linearGradient id="dDome" gradientUnits="userSpaceOnUse" x1="0" y1="288" x2="0" y2="303"><stop offset="0.0000" stop-color="#38caf2"/><stop offset="0.2000" stop-color="#2ab4f0"/><stop offset="0.5333" stop-color="#1a90ea"/><stop offset="1.0000" stop-color="#0e64dc"/></linearGradient><linearGradient id="dBack" gradientUnits="userSpaceOnUse" x1="0" y1="175.7" x2="0" y2="195"><stop offset="0.0000" stop-color="#0e90e8"/><stop offset="0.3264" stop-color="#16a4ee"/><stop offset="0.6373" stop-color="#20b8f0"/><stop offset="1.0000" stop-color="#2ccaf0"/></linearGradient><linearGradient id="dTopR" gradientUnits="userSpaceOnUse" x1="262" y1="172" x2="254" y2="198"><stop offset="0.0000" stop-color="#0428cc"/><stop offset="0.3000" stop-color="#0a54dc"/><stop offset="0.5500" stop-color="#1488ea"/><stop offset="0.8000" stop-color="#22b8f0"/><stop offset="1.0000" stop-color="#3ad8e6"/></linearGradient><linearGradient id="hUp" gradientUnits="userSpaceOnUse" x1="0" y1="175.5" x2="0" y2="241.5"><stop offset="0.0000" stop-color="#26c0f2"/><stop offset="0.0985" stop-color="#36d8ec"/><stop offset="0.1894" stop-color="#58ecc4"/><stop offset="0.2652" stop-color="#94f47c"/><stop offset="0.3409" stop-color="#d4f234"/><stop offset="0.4167" stop-color="#fce000"/><stop offset="0.4924" stop-color="#ffc400"/><stop offset="0.5833" stop-color="#ff9c00"/><stop offset="0.6742" stop-color="#ff6c00"/><stop offset="0.7652" stop-color="#ff3800"/><stop offset="0.8409" stop-color="#f00a00"/><stop offset="0.9167" stop-color="#c80000"/><stop offset="1.0000" stop-color="#900000"/></linearGradient><linearGradient id="hLeft" gradientUnits="userSpaceOnUse" x1="505" y1="176" x2="497" y2="212"><stop offset="0.0000" stop-color="#2cc8f2"/><stop offset="0.2000" stop-color="#38dce6"/><stop offset="0.3800" stop-color="#5aeeb8"/><stop offset="0.5500" stop-color="#9cf470"/><stop offset="0.7200" stop-color="#d8f028"/><stop offset="0.8600" stop-color="#fcd800"/><stop offset="1.0000" stop-color="#ffb000"/></linearGradient><linearGradient id="hWing" gradientUnits="userSpaceOnUse" x1="628" y1="186" x2="590" y2="228"><stop offset="0.0000" stop-color="#0a50dc"/><stop offset="0.1000" stop-color="#1278e6"/><stop offset="0.2100" stop-color="#22aef0"/><stop offset="0.3300" stop-color="#34d0ec"/><stop offset="0.4600" stop-color="#50ecc0"/><stop offset="0.5700" stop-color="#98f478"/><stop offset="0.6700" stop-color="#d0f038"/><stop offset="0.7600" stop-color="#fcd800"/><stop offset="0.8400" stop-color="#ffb000"/><stop offset="0.9500" stop-color="#ff7800"/><stop offset="1.0000" stop-color="#ff5800"/></linearGradient><linearGradient id="hLo" gradientUnits="userSpaceOnUse" x1="0" y1="243" x2="0" y2="302"><stop offset="0.0000" stop-color="#900000"/><stop offset="0.0847" stop-color="#d80000"/><stop offset="0.1695" stop-color="#ff3000"/><stop offset="0.2542" stop-color="#ff7000"/><stop offset="0.3390" stop-color="#ffa800"/><stop offset="0.4237" stop-color="#f8dc00"/><stop offset="0.5085" stop-color="#d0f430"/><stop offset="0.5932" stop-color="#90f47c"/><stop offset="0.6780" stop-color="#58ecbe"/><stop offset="0.7627" stop-color="#3cd8e8"/><stop offset="0.8644" stop-color="#2cc0f2"/><stop offset="1.0000" stop-color="#1ea2f0"/></linearGradient><linearGradient id="hDome" gradientUnits="userSpaceOnUse" x1="0" y1="285" x2="0" y2="301"><stop offset="0.0000" stop-color="#1a90ea"/><stop offset="0.3125" stop-color="#1068e0"/><stop offset="0.6250" stop-color="#0a46d2"/><stop offset="1.0000" stop-color="#0834c6"/></linearGradient><radialGradient id="hLeftR" gradientUnits="userSpaceOnUse" cx="547" cy="160" r="56" gradientTransform="translate(547 160) scale(2.0 1) translate(-547 -160)"><stop offset="0.000" stop-color="#20b8f0"/><stop offset="0.500" stop-color="#2ccef0"/><stop offset="0.640" stop-color="#3cdee0"/><stop offset="0.720" stop-color="#60eeb0"/><stop offset="0.790" stop-color="#98f470"/><stop offset="0.850" stop-color="#d4f030"/><stop offset="0.900" stop-color="#fce000"/><stop offset="0.950" stop-color="#ffb800"/><stop offset="1.000" stop-color="#ff9800"/></radialGradient><radialGradient id="dTR" gradientUnits="userSpaceOnUse" cx="292" cy="172" r="30" gradientTransform="translate(292 172) scale(2.6 1) translate(-292 -172)"><stop offset="0.00" stop-color="#0018c8" stop-opacity="1"/><stop offset="0.20" stop-color="#0030d4" stop-opacity="1"/><stop offset="0.40" stop-color="#0058e2" stop-opacity="0.92"/><stop offset="0.60" stop-color="#0c88ea" stop-opacity="0.65"/><stop offset="0.80" stop-color="#1cb0f0" stop-opacity="0.3"/><stop offset="1.00" stop-color="#30d0f0" stop-opacity="0"/></radialGradient></defs>
<path d="M157 210.2L206.8 208.5H290M157 240.8L206.8 239.3H290M157 271.9L206.8 270.4H290M175.5 178V303M193.7 178V303M242 178V300M289.8 176V298" stroke="#444" stroke-width="0.9" stroke-dasharray="0.9 3.2" fill="none"/>
<clipPath id="dUpClip"><path d="M156.8 175.7H236L244 180.4L252 175.7H289.6V192.7L223.5 239.6L156.8 199.5Z"/></clipPath>
<g clip-path="url(#dUpClip)">
<rect x="150" y="170" width="145" height="75" fill="#0838d4"/>
<path d="M223.5 239.5L48.08 134.25A165.88 22 0 0 0 373.15 133.55Z" fill="#000080"/>
<path d="M223.5 239.5L52.07 136.64A162.11 21.5 0 0 0 369.74 135.96Z" fill="#000080"/>
<path d="M223.5 239.5L56.06 139.03A158.34 21 0 0 0 366.34 138.37Z" fill="#000080"/>
<path d="M223.5 239.5L60.04 141.43A154.57 20.5 0 0 0 362.94 140.77Z" fill="#000081"/>
<path d="M223.5 239.5L64.03 143.82A150.8 20 0 0 0 359.54 143.18Z" fill="#00009a"/>
<path d="M223.5 239.5L68.02 146.21A147.03 19.5 0 0 0 356.14 145.59Z" fill="#0000b3"/>
<path d="M223.5 239.5L72 148.6A143.26 19 0 0 0 352.74 148Z" fill="#0000cc"/>
<path d="M223.5 239.5L75.99 150.99A139.49 18.5 0 0 0 349.34 150.41Z" fill="#0000e5"/>
<path d="M223.5 239.5L79.98 153.39A135.72 18 0 0 0 345.94 152.81Z" fill="#0000fe"/>
<path d="M223.5 239.5L83.96 155.78A131.95 17.5 0 0 0 342.54 155.22Z" fill="#0017ff"/>
<path d="M223.5 239.5L87.95 158.17A128.18 17 0 0 0 339.13 157.63Z" fill="#0030ff"/>
<path d="M223.5 239.5L91.94 160.56A124.41 16.5 0 0 0 335.73 160.04Z" fill="#0049ff"/>
<path d="M223.5 239.5L95.92 162.95A120.64 16 0 0 0 332.33 162.45Z" fill="#0062ff"/>
<path d="M223.5 239.5L99.91 165.35A116.87 15.5 0 0 0 328.93 164.85Z" fill="#007bff"/>
<path d="M223.5 239.5L103.9 167.74A113.1 15 0 0 0 325.53 167.26Z" fill="#0094ff"/>
<path d="M223.5 239.5L107.88 170.13A109.33 14.5 0 0 0 322.13 169.67Z" fill="#00acff"/>
<path d="M223.5 239.5L111.87 172.52A105.56 14 0 0 0 318.73 172.08Z" fill="#00c5ff"/>
<path d="M223.5 239.5L115.86 174.91A101.79 13.5 0 0 0 315.33 174.49Z" fill="#00deff"/>
<path d="M223.5 239.5L119.84 177.31A98.02 13 0 0 0 311.93 176.89Z" fill="#00f7ff"/>
<path d="M223.5 239.5L123.83 179.7A94.25 12.5 0 0 0 308.53 179.3Z" fill="#11ffee"/>
<path d="M223.5 239.5L127.82 182.09A90.48 12 0 0 0 305.12 181.71Z" fill="#2affd5"/>
<path d="M223.5 239.5L131.8 184.48A86.71 11.5 0 0 0 301.72 184.12Z" fill="#42ffbd"/>
<path d="M223.5 239.5L135.79 186.87A82.94 11 0 0 0 298.32 186.53Z" fill="#5bffa4"/>
<path d="M223.5 239.5L139.78 189.27A79.17 10.5 0 0 0 294.92 188.93Z" fill="#74ff8b"/>
<path d="M223.5 239.5L143.76 191.66A75.4 10 0 0 0 291.52 191.34Z" fill="#8dff72"/>
<path d="M223.5 239.5L147.75 194.05A71.63 9.5 0 0 0 288.12 193.75Z" fill="#a6ff59"/>
<path d="M223.5 239.5L151.74 196.44A67.86 9 0 0 0 284.72 196.16Z" fill="#bfff40"/>
<path d="M223.5 239.5L155.72 198.83A64.09 8.5 0 0 0 281.32 198.57Z" fill="#d7ff28"/>
<path d="M223.5 239.5L159.71 201.23A60.32 8 0 0 0 277.92 200.97Z" fill="#f0ff0f"/>
<path d="M223.5 239.5L163.7 203.62A56.55 7.5 0 0 0 274.52 203.38Z" fill="#fff500"/>
<path d="M223.5 239.5L167.69 206.01A52.78 7 0 0 0 271.11 205.79Z" fill="#ffdc00"/>
<path d="M223.5 239.5L171.67 208.4A49.01 6.5 0 0 0 267.71 208.2Z" fill="#ffc300"/>
<path d="M223.5 239.5L175.66 210.8A45.24 6 0 0 0 264.31 210.6Z" fill="#ffaa00"/>
<path d="M223.5 239.5L179.65 213.19A41.47 5.5 0 0 0 260.91 213.01Z" fill="#ff9200"/>
<path d="M223.5 239.5L183.63 215.58A37.7 5 0 0 0 257.51 215.42Z" fill="#ff7900"/>
<path d="M223.5 239.5L187.62 217.97A33.93 4.5 0 0 0 254.11 217.83Z" fill="#ff6000"/>
<path d="M223.5 239.5L191.61 220.36A30.16 4 0 0 0 250.71 220.24Z" fill="#ff4700"/>
<path d="M223.5 239.5L195.59 222.76A26.39 3.5 0 0 0 247.31 222.64Z" fill="#ff2e00"/>
<path d="M223.5 239.5L199.58 225.15A22.62 3 0 0 0 243.91 225.05Z" fill="#ff1500"/>
<path d="M223.5 239.5L203.57 227.54A18.85 2.5 0 0 0 240.51 227.46Z" fill="#fc0000"/>
<path d="M223.5 239.5L207.55 229.93A15.08 2 0 0 0 237.1 229.87Z" fill="#e30000"/>
<path d="M223.5 239.5L211.54 232.32A11.31 1.5 0 0 0 233.7 232.28Z" fill="#ca0000"/>
<path d="M223.5 239.5L215.53 234.72A7.54 1 0 0 0 230.3 234.68Z" fill="#b10000"/>
<path d="M223.5 239.5L219.51 237.11A3.77 0.5 0 0 0 226.9 237.09Z" fill="#980000"/>
<path d="M226 175.7H290V210L262 218L226 200Z" fill="url(#dTR)"/>
</g>
<path d="M156.8 175.7H236L244 180.4C236 188 222 194.3 207 194.3C188 194.3 170 189.5 156.8 184.4Z" fill="url(#dBack)"/>
<path d="M156.8 185.6C170 190.8 188 195.6 207 195.6C222 195.6 236 189.2 244.4 181.5" stroke="#4ae6d4" stroke-width="1.8" fill="none" opacity="0.7"/>
<clipPath id="dLoClip"><path d="M223 241.6L289.6 276.5V299.8L256.5 303L237.2 295.2L223 303H156.8V287.8Z"/></clipPath>
<g clip-path="url(#dLoClip)">
<rect x="150" y="238" width="145" height="70" fill="#20a8f0"/>
<path d="M223 241.8L57.59 355.27A196.08 30 0 0 1 437.1 353.35Z" fill="#008aff"/>
<path d="M223 241.8L61.04 352.91A191.99 29.38 0 0 1 432.64 351.02Z" fill="#008eff"/>
<path d="M223 241.8L64.48 350.54A187.91 28.75 0 0 1 428.18 348.7Z" fill="#0092ff"/>
<path d="M223 241.8L67.93 348.18A183.82 28.12 0 0 1 423.72 346.38Z" fill="#0096ff"/>
<path d="M223 241.8L71.38 345.81A179.74 27.5 0 0 1 419.26 344.05Z" fill="#009bff"/>
<path d="M223 241.8L74.82 343.45A175.66 26.88 0 0 1 414.8 341.73Z" fill="#009fff"/>
<path d="M223 241.8L78.27 341.09A171.57 26.25 0 0 1 410.34 339.4Z" fill="#00a3ff"/>
<path d="M223 241.8L81.71 338.72A167.48 25.62 0 0 1 405.88 337.08Z" fill="#00a7ff"/>
<path d="M223 241.8L85.16 336.36A163.4 25 0 0 1 401.42 334.76Z" fill="#00acff"/>
<path d="M223 241.8L88.61 333.99A159.31 24.38 0 0 1 396.96 332.43Z" fill="#00b0ff"/>
<path d="M223 241.8L92.05 331.63A155.23 23.75 0 0 1 392.5 330.11Z" fill="#00b4ff"/>
<path d="M223 241.8L95.5 329.27A151.14 23.12 0 0 1 388.04 327.78Z" fill="#00b8ff"/>
<path d="M223 241.8L98.94 326.9A147.06 22.5 0 0 1 383.58 325.46Z" fill="#00bdff"/>
<path d="M223 241.8L102.39 324.54A142.97 21.88 0 0 1 379.12 323.14Z" fill="#00c5ff"/>
<path d="M223 241.8L105.84 322.17A138.89 21.25 0 0 1 374.66 320.81Z" fill="#00ceff"/>
<path d="M223 241.8L109.28 319.81A134.8 20.62 0 0 1 370.2 318.49Z" fill="#00d6ff"/>
<path d="M223 241.8L112.73 317.45A130.72 20 0 0 1 365.73 316.16Z" fill="#00dfff"/>
<path d="M223 241.8L116.17 315.08A126.63 19.38 0 0 1 361.27 313.84Z" fill="#00e7ff"/>
<path d="M223 241.8L119.62 312.72A122.55 18.75 0 0 1 356.81 311.52Z" fill="#00f0ff"/>
<path d="M223 241.8L123.07 310.35A118.46 18.12 0 0 1 352.35 309.19Z" fill="#00ffff"/>
<path d="M223 241.8L126.51 307.99A114.38 17.5 0 0 1 347.89 306.87Z" fill="#0ffff0"/>
<path d="M223 241.8L129.96 305.63A110.29 16.88 0 0 1 343.43 304.55Z" fill="#1fffe0"/>
<path d="M223 241.8L133.4 303.26A106.21 16.25 0 0 1 338.97 302.22Z" fill="#2effd1"/>
<path d="M223 241.8L136.85 300.9A102.12 15.62 0 0 1 334.51 299.9Z" fill="#42ffbd"/>
<path d="M223 241.8L140.3 298.53A98.04 15 0 0 1 330.05 297.57Z" fill="#57ffa8"/>
<path d="M223 241.8L143.74 296.17A93.95 14.38 0 0 1 325.59 295.25Z" fill="#6bff94"/>
<path d="M223 241.8L147.19 293.81A89.87 13.75 0 0 1 321.13 292.93Z" fill="#80ff80"/>
<path d="M223 241.8L150.63 291.44A85.78 13.12 0 0 1 316.67 290.6Z" fill="#99ff66"/>
<path d="M223 241.8L154.08 289.08A81.7 12.5 0 0 1 312.21 288.28Z" fill="#b3ff4c"/>
<path d="M223 241.8L157.53 286.72A77.61 11.88 0 0 1 307.75 285.95Z" fill="#cdff32"/>
<path d="M223 241.8L160.97 284.35A73.53 11.25 0 0 1 303.29 283.63Z" fill="#e7ff18"/>
<path d="M223 241.8L164.42 281.99A69.44 10.62 0 0 1 298.83 281.31Z" fill="#fffd00"/>
<path d="M223 241.8L167.86 279.62A65.36 10 0 0 1 294.37 278.98Z" fill="#ffe700"/>
<path d="M223 241.8L171.31 277.26A61.27 9.38 0 0 1 289.91 276.66Z" fill="#ffd000"/>
<path d="M223 241.8L174.76 274.9A57.19 8.75 0 0 1 285.45 274.33Z" fill="#ffba00"/>
<path d="M223 241.8L178.2 272.53A53.1 8.12 0 0 1 280.99 272.01Z" fill="#ffa400"/>
<path d="M223 241.8L181.65 270.17A49.02 7.5 0 0 1 276.53 269.69Z" fill="#ff8d00"/>
<path d="M223 241.8L185.09 267.8A44.93 6.88 0 0 1 272.07 267.36Z" fill="#ff7700"/>
<path d="M223 241.8L188.54 265.44A40.85 6.25 0 0 1 267.6 265.04Z" fill="#ff6000"/>
<path d="M223 241.8L191.99 263.08A36.77 5.62 0 0 1 263.14 262.72Z" fill="#ff4a00"/>
<path d="M223 241.8L195.43 260.71A32.68 5 0 0 1 258.68 260.39Z" fill="#ff3400"/>
<path d="M223 241.8L198.88 258.35A28.59 4.38 0 0 1 254.22 258.07Z" fill="#ff1d00"/>
<path d="M223 241.8L202.32 255.98A24.51 3.75 0 0 1 249.76 255.74Z" fill="#ff0700"/>
<path d="M223 241.8L205.77 253.62A20.42 3.12 0 0 1 245.3 253.42Z" fill="#ef0000"/>
<path d="M223 241.8L209.22 251.26A16.34 2.5 0 0 1 240.84 251.1Z" fill="#d90000"/>
<path d="M223 241.8L212.66 248.89A12.25 1.88 0 0 1 236.38 248.77Z" fill="#c30000"/>
<path d="M223 241.8L216.11 246.53A8.17 1.25 0 0 1 231.92 246.45Z" fill="#ac0000"/>
<path d="M223 241.8L219.55 244.16A4.08 0.62 0 0 1 227.46 244.12Z" fill="#960000"/>
</g>
<path d="M156.8 296C170 290 188 288.3 205 288.5C220 288.8 230 291.5 237.2 295.2L223 303H156.8Z" fill="url(#dDome)"/>
<path d="M237.2 295.2L223 303H256.5Z" fill="#fff"/>
<path d="M228 300.8h3M233 299.4h4M239 300h5M245 300.8h4" stroke="#666" stroke-width="0.6" stroke-dasharray="0.8 0.8"/>
<path d="M156.4 175.5V303.2H223" stroke="#222" stroke-width="1" fill="none"/>
<path d="M256.5 303L290 298.5" stroke="#333" stroke-width="1" stroke-dasharray="2.4 1.6"/>
<path d="M153.6 179.5H156.4" stroke="#222" stroke-width="1"/>
<text x="153.4" y="182.3" font-size="8" text-anchor="end">0.6</text>
<path d="M153.6 210.2H156.4" stroke="#222" stroke-width="1"/>
<text x="153.4" y="213.0" font-size="8" text-anchor="end">0.3</text>
<path d="M153.6 241H156.4" stroke="#222" stroke-width="1"/>
<text x="153.4" y="243.8" font-size="8" text-anchor="end">0</text>
<path d="M153.6 271.7H156.4" stroke="#222" stroke-width="1"/>
<text x="153.4" y="274.5" font-size="8" text-anchor="end">-0.3</text>
<path d="M153.6 302.5H156.4" stroke="#222" stroke-width="1"/>
<text x="153.4" y="305.3" font-size="8" text-anchor="end">-0.6</text>
<text x="150" y="313.5" font-size="8" text-anchor="middle">0.102</text>
<text x="193.7" y="313" font-size="8" text-anchor="middle">0.137</text>
<text x="239.6" y="312.5" font-size="8" text-anchor="middle">0.172</text>
<text x="262" y="312" font-size="8" text-anchor="middle">-0.035</text>
<text x="278" y="311.5" font-size="8" text-anchor="middle">0</text>
<text x="293.5" y="311" font-size="8" text-anchor="middle">0.035</text>
<path d="M193.7 303.2v-2M239.6 303v-2" stroke="#222" stroke-width="0.8"/>
<text transform="translate(132.4,243.3) rotate(-90)" font-size="16" text-anchor="middle">Energy (eV)</text>
<text x="198.2" y="327.6" font-size="13.5" text-anchor="middle"><tspan font-style="italic">k</tspan><tspan font-size="8" dy="2" font-style="italic">x</tspan><tspan dy="-2"> (bohr</tspan><tspan font-size="7" dy="-4">-1</tspan><tspan dy="4">)</tspan></text>
<text transform="translate(281,325.5) rotate(-6)" font-size="13.5" text-anchor="middle"><tspan font-style="italic">k</tspan><tspan font-size="8" dy="2" font-style="italic">y</tspan><tspan dy="-2"> (bohr</tspan><tspan font-size="7" dy="-4">-1</tspan><tspan dy="4">)</tspan></text>
<path d="M490.8 188L557.2 175.6L654 183.1M490.8 214.2L557.2 201.8L654 209.3M490.8 240.6L557.2 228.2L654 235.7M490.8 267.4L557.2 255.0L654 262.5M524 181.8V288M557.2 175.6V281.8M605.6 179.4V285.6M654 183.1V289.3" stroke="#444" stroke-width="0.9" stroke-dasharray="0.9 3.2" fill="none"/>
<clipPath id="hUpClip"><path d="M490.9 181.8C496 180 503 177 512 175.5H557L592.5 196.5L603.1 189.2C620 188.8 640 186.5 655.7 182.7V186.7L573 241.5L490.9 188.6Z"/></clipPath>
<g clip-path="url(#hUpClip)">
<rect x="488" y="170" width="170" height="75" fill="#1060e0"/>
<path d="M573 241.5L443.94 157.12A133.29 22.5 0 0 0 702.06 157.12Z" fill="#000080"/>
<path d="M573 241.5L447.17 159.23A129.96 21.94 0 0 0 698.83 159.23Z" fill="#000080"/>
<path d="M573 241.5L450.4 161.34A126.63 21.38 0 0 0 695.6 161.34Z" fill="#000087"/>
<path d="M573 241.5L453.62 163.45A123.29 20.81 0 0 0 692.38 163.45Z" fill="#0000a1"/>
<path d="M573 241.5L456.85 165.56A119.96 20.25 0 0 0 689.15 165.56Z" fill="#0000bc"/>
<path d="M573 241.5L460.07 167.67A116.63 19.69 0 0 0 685.93 167.67Z" fill="#0000d7"/>
<path d="M573 241.5L463.3 169.78A113.3 19.12 0 0 0 682.7 169.78Z" fill="#0000f1"/>
<path d="M573 241.5L466.53 171.89A109.96 18.56 0 0 0 679.47 171.89Z" fill="#000dff"/>
<path d="M573 241.5L469.75 174A106.63 18 0 0 0 676.25 174Z" fill="#0028ff"/>
<path d="M573 241.5L472.98 176.11A103.3 17.44 0 0 0 673.02 176.11Z" fill="#0042ff"/>
<path d="M573 241.5L476.21 178.22A99.97 16.88 0 0 0 669.79 178.22Z" fill="#005dff"/>
<path d="M573 241.5L479.43 180.33A96.64 16.31 0 0 0 666.57 180.33Z" fill="#0078ff"/>
<path d="M573 241.5L482.66 182.44A93.3 15.75 0 0 0 663.34 182.44Z" fill="#0092ff"/>
<path d="M573 241.5L485.89 184.55A89.97 15.19 0 0 0 660.11 184.55Z" fill="#00adff"/>
<path d="M573 241.5L489.11 186.66A86.64 14.62 0 0 0 656.89 186.66Z" fill="#00c7ff"/>
<path d="M573 241.5L492.34 188.77A83.31 14.06 0 0 0 653.66 188.77Z" fill="#00e2ff"/>
<path d="M573 241.5L495.57 190.88A79.97 13.5 0 0 0 650.43 190.88Z" fill="#00fdff"/>
<path d="M573 241.5L498.79 192.98A76.64 12.94 0 0 0 647.21 192.98Z" fill="#18ffe7"/>
<path d="M573 241.5L502.02 195.09A73.31 12.38 0 0 0 643.98 195.09Z" fill="#33ffcc"/>
<path d="M573 241.5L505.24 197.2A69.98 11.81 0 0 0 640.76 197.2Z" fill="#4effb1"/>
<path d="M573 241.5L508.47 199.31A66.65 11.25 0 0 0 637.53 199.31Z" fill="#68ff97"/>
<path d="M573 241.5L511.7 201.42A63.31 10.69 0 0 0 634.3 201.42Z" fill="#83ff7c"/>
<path d="M573 241.5L514.92 203.53A59.98 10.12 0 0 0 631.08 203.53Z" fill="#9eff61"/>
<path d="M573 241.5L518.15 205.64A56.65 9.56 0 0 0 627.85 205.64Z" fill="#b8ff47"/>
<path d="M573 241.5L521.38 207.75A53.32 9 0 0 0 624.62 207.75Z" fill="#d3ff2c"/>
<path d="M573 241.5L524.6 209.86A49.98 8.44 0 0 0 621.4 209.86Z" fill="#eeff11"/>
<path d="M573 241.5L527.83 211.97A46.65 7.88 0 0 0 618.17 211.97Z" fill="#fff600"/>
<path d="M573 241.5L531.06 214.08A43.32 7.31 0 0 0 614.94 214.08Z" fill="#ffdb00"/>
<path d="M573 241.5L534.28 216.19A39.99 6.75 0 0 0 611.72 216.19Z" fill="#ffc000"/>
<path d="M573 241.5L537.51 218.3A36.65 6.19 0 0 0 608.49 218.3Z" fill="#ffa600"/>
<path d="M573 241.5L540.74 220.41A33.32 5.62 0 0 0 605.26 220.41Z" fill="#ff8b00"/>
<path d="M573 241.5L543.96 222.52A29.99 5.06 0 0 0 602.04 222.52Z" fill="#ff7000"/>
<path d="M573 241.5L547.19 224.62A26.66 4.5 0 0 0 598.81 224.62Z" fill="#ff5600"/>
<path d="M573 241.5L550.41 226.73A23.33 3.94 0 0 0 595.59 226.73Z" fill="#ff3b00"/>
<path d="M573 241.5L553.64 228.84A19.99 3.38 0 0 0 592.36 228.84Z" fill="#ff2000"/>
<path d="M573 241.5L556.87 230.95A16.66 2.81 0 0 0 589.13 230.95Z" fill="#ff0600"/>
<path d="M573 241.5L560.09 233.06A13.33 2.25 0 0 0 585.91 233.06Z" fill="#ea0000"/>
<path d="M573 241.5L563.32 235.17A10 1.69 0 0 0 582.68 235.17Z" fill="#cf0000"/>
<path d="M573 241.5L566.55 237.28A6.66 1.12 0 0 0 579.45 237.28Z" fill="#b50000"/>
<path d="M573 241.5L569.77 239.39A3.33 0.56 0 0 0 576.23 239.39Z" fill="#9a0000"/>
</g>
<path d="M490.9 181.8C496 180 503 177 512 175.5H557L592.5 196.5C586 200.5 579 206 570 211.5C562 214.5 552 214.6 546 213.8C538 212.6 530 210.5 522 208.9L490.9 188.6Z" fill="url(#hLeftR)"/>
<clipPath id="hLoClip"><path d="M573 243L655.7 288.7V297.8L600 302.8L585.6 299L562.5 289.3C556 293 550 297 547 297.9C538 300 530 300.8 527.8 300.8C518 300 512 299 508.5 298.9L491.2 300.8Z"/></clipPath>
<g clip-path="url(#hLoClip)">
<rect x="488" y="240" width="170" height="65" fill="#1c9af0"/>
<path d="M573 243L439.92 337.48A155.66 25 0 0 1 741.22 336.03Z" fill="#0094ff"/>
<path d="M573 243L442.95 335.34A152.12 24.43 0 0 1 737.4 333.91Z" fill="#0099ff"/>
<path d="M573 243L445.97 333.19A148.58 23.86 0 0 1 733.58 331.8Z" fill="#009dff"/>
<path d="M573 243L449 331.04A145.05 23.3 0 0 1 729.75 329.68Z" fill="#00a2ff"/>
<path d="M573 243L452.02 328.89A141.51 22.73 0 0 1 725.93 327.57Z" fill="#00a6ff"/>
<path d="M573 243L455.05 326.75A137.97 22.16 0 0 1 722.11 325.46Z" fill="#00abff"/>
<path d="M573 243L458.07 324.6A134.43 21.59 0 0 1 718.28 323.34Z" fill="#00b0ff"/>
<path d="M573 243L461.09 322.45A130.9 21.02 0 0 1 714.46 321.23Z" fill="#00b4ff"/>
<path d="M573 243L464.12 320.31A127.36 20.45 0 0 1 710.64 319.11Z" fill="#00b9ff"/>
<path d="M573 243L467.14 318.16A123.82 19.89 0 0 1 706.81 317Z" fill="#00bfff"/>
<path d="M573 243L470.17 316.01A120.28 19.32 0 0 1 702.99 314.88Z" fill="#00c8ff"/>
<path d="M573 243L473.19 313.86A116.75 18.75 0 0 1 699.17 312.77Z" fill="#00d1ff"/>
<path d="M573 243L476.22 311.72A113.21 18.18 0 0 1 695.34 310.66Z" fill="#00daff"/>
<path d="M573 243L479.24 309.57A109.67 17.61 0 0 1 691.52 308.54Z" fill="#00e4ff"/>
<path d="M573 243L482.27 307.42A106.13 17.05 0 0 1 687.7 306.43Z" fill="#00efff"/>
<path d="M573 243L485.29 305.27A102.59 16.48 0 0 1 683.87 304.31Z" fill="#00faff"/>
<path d="M573 243L488.31 303.13A99.06 15.91 0 0 1 680.05 302.2Z" fill="#07fff8"/>
<path d="M573 243L491.34 300.98A95.52 15.34 0 0 1 676.23 300.09Z" fill="#13ffec"/>
<path d="M573 243L494.36 298.83A91.98 14.77 0 0 1 672.4 297.97Z" fill="#20ffdf"/>
<path d="M573 243L497.39 296.68A88.44 14.2 0 0 1 668.58 295.86Z" fill="#30ffcf"/>
<path d="M573 243L500.41 294.54A84.91 13.64 0 0 1 664.76 293.74Z" fill="#40ffbf"/>
<path d="M573 243L503.44 292.39A81.37 13.07 0 0 1 660.93 291.63Z" fill="#51ffae"/>
<path d="M573 243L506.46 290.24A77.83 12.5 0 0 1 657.11 289.51Z" fill="#61ff9e"/>
<path d="M573 243L509.49 288.09A74.29 11.93 0 0 1 653.29 287.4Z" fill="#78ff87"/>
<path d="M573 243L512.51 285.95A70.75 11.36 0 0 1 649.47 285.29Z" fill="#8fff70"/>
<path d="M573 243L515.54 283.8A67.22 10.8 0 0 1 645.64 283.17Z" fill="#a6ff59"/>
<path d="M573 243L518.56 281.65A63.68 10.23 0 0 1 641.82 281.06Z" fill="#beff41"/>
<path d="M573 243L521.58 279.51A60.14 9.66 0 0 1 638 278.94Z" fill="#d5ff2a"/>
<path d="M573 243L524.61 277.36A56.6 9.09 0 0 1 634.17 276.83Z" fill="#ecff13"/>
<path d="M573 243L527.63 275.21A53.07 8.52 0 0 1 630.35 274.71Z" fill="#fffa00"/>
<path d="M573 243L530.66 273.06A49.53 7.95 0 0 1 626.53 272.6Z" fill="#ffe100"/>
<path d="M573 243L533.68 270.92A45.99 7.39 0 0 1 622.7 270.49Z" fill="#ffc800"/>
<path d="M573 243L536.71 268.77A42.45 6.82 0 0 1 618.88 268.37Z" fill="#ffaf00"/>
<path d="M573 243L539.73 266.62A38.91 6.25 0 0 1 615.06 266.26Z" fill="#ff9600"/>
<path d="M573 243L542.76 264.47A35.38 5.68 0 0 1 611.23 264.14Z" fill="#ff7c00"/>
<path d="M573 243L545.78 262.33A31.84 5.11 0 0 1 607.41 262.03Z" fill="#ff6300"/>
<path d="M573 243L548.8 260.18A28.3 4.55 0 0 1 603.59 259.91Z" fill="#ff4a00"/>
<path d="M573 243L551.83 258.03A24.76 3.98 0 0 1 599.76 257.8Z" fill="#ff3100"/>
<path d="M573 243L554.85 255.88A21.23 3.41 0 0 1 595.94 255.69Z" fill="#ff1800"/>
<path d="M573 243L557.88 253.74A17.69 2.84 0 0 1 592.12 253.57Z" fill="#fd0000"/>
<path d="M573 243L560.9 251.59A14.15 2.27 0 0 1 588.29 251.46Z" fill="#e40000"/>
<path d="M573 243L563.93 249.44A10.61 1.7 0 0 1 584.47 249.34Z" fill="#cb0000"/>
<path d="M573 243L566.95 247.29A7.08 1.14 0 0 1 580.65 247.23Z" fill="#b20000"/>
<path d="M573 243L569.98 245.15A3.54 0.57 0 0 1 576.82 245.11Z" fill="#990000"/>
</g>
<path d="M491.2 300.8C496 297 502 293.5 508.5 291.2C515 288.5 522 286.8 527.8 286.4C536 285.6 542 285.2 547 285.4C553 285.8 558 287.2 562.5 289.3C556 293 550 297 547 297.9C538 300 530 300.8 527.8 300.8C518 300 512 299 508.5 298.9Z" fill="url(#hDome)"/>
<path d="M600 302.8L655.7 297.8V291L620 298Z" fill="#28a8f2" opacity="0.8"/>
<path d="M490.8 175V294.2" stroke="#222" stroke-width="1"/>
<path d="M490.8 294.2L587.6 301.7" stroke="#222" stroke-width="1"/>
<path d="M587.6 301.7L654 289.3" stroke="#333" stroke-width="1" stroke-dasharray="2.6 1.6"/>
<path d="M488 188H490.8" stroke="#222" stroke-width="1"/>
<text x="487.6" y="190.8" font-size="8" text-anchor="end">0.4</text>
<path d="M488 214.2H490.8" stroke="#222" stroke-width="1"/>
<text x="487.6" y="217.0" font-size="8" text-anchor="end">0.2</text>
<path d="M488 240.6H490.8" stroke="#222" stroke-width="1"/>
<text x="487.6" y="243.4" font-size="8" text-anchor="end">0</text>
<path d="M488 267.4H490.8" stroke="#222" stroke-width="1"/>
<text x="487.6" y="270.2" font-size="8" text-anchor="end">-0.2</text>
<path d="M488 294H490.8" stroke="#222" stroke-width="1"/>
<text x="487.6" y="296.8" font-size="8" text-anchor="end">-0.4</text>
<text x="481.5" y="303.6" font-size="8" text-anchor="middle">0.113</text>
<text x="528.8" y="308" font-size="8" text-anchor="middle">0.148</text>
<text x="578" y="311.3" font-size="8" text-anchor="middle">0.183</text>
<text x="597" y="310.5" font-size="8" text-anchor="middle">0.140</text>
<text x="631" y="304" font-size="8" text-anchor="middle">0.175</text>
<text x="663.5" y="296.4" font-size="8" text-anchor="middle">0.210</text>
<text transform="translate(466.2,236.5) rotate(-90)" font-size="15.2" text-anchor="middle">Energy (eV)</text>
<text x="530" y="319.8" font-size="13.5" text-anchor="middle"><tspan font-style="italic">k</tspan><tspan font-size="8" dy="2" font-style="italic">x</tspan><tspan dy="-2"> (bohr</tspan><tspan font-size="7" dy="-4">-1</tspan><tspan dy="4">)</tspan></text>
<text transform="translate(639,318.5) rotate(-7)" font-size="13.5" text-anchor="middle"><tspan font-style="italic">k</tspan><tspan font-size="8" dy="2" font-style="italic">y</tspan><tspan dy="-2"> (bohr</tspan><tspan font-size="7" dy="-4">-1</tspan><tspan dy="4">)</tspan></text>
</svg></body></html>
